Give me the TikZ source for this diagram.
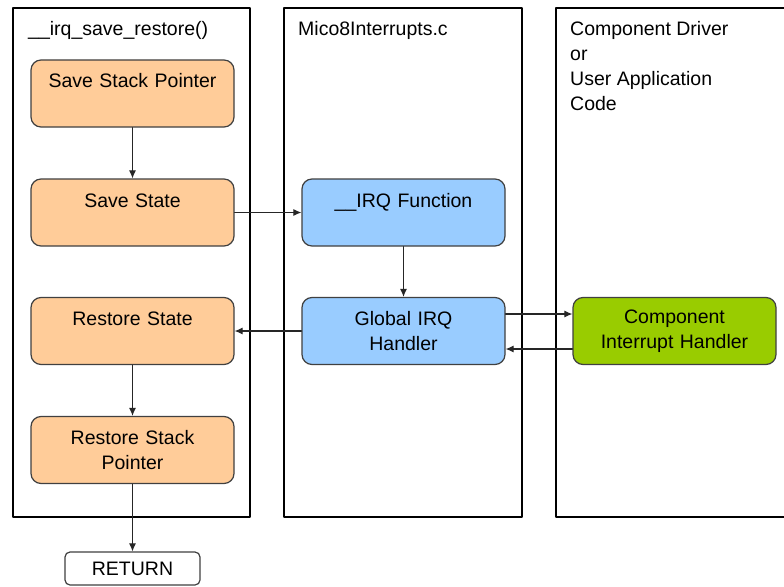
\documentclass[tikz,border=0pt]{standalone}
\usepackage{fontspec}
\setmainfont{Liberation Sans}
\usepackage{tikz}
\usetikzlibrary{arrows.meta,positioning}

\definecolor{peach}{HTML}{FFCC99}
\definecolor{skyblue}{HTML}{99CCFF}
\definecolor{limegreen}{HTML}{99CC00}
\definecolor{boxline}{HTML}{404040}

\tikzset{
  flowbox/.style={draw=boxline,line width=1.2pt,rounded corners=10pt,
    minimum width=203pt,minimum height=67pt,text width=190pt,align=center,
    font=\fontsize{19.5}{25}\selectfont},
  oneline/.style={text height=14pt,text depth=25pt},
  paneltitle/.style={anchor=north west,inner sep=0pt,align=left,
    font=\fontsize{19.5}{25}\selectfont},
  flow/.style={-{Latex[length=8pt,width=7pt]},line width=1.1pt,black!85}
}

\begin{document}
\begin{tikzpicture}[x=1pt,y=-1pt,line cap=round,line join=round]
\path[use as bounding box] (0,0) rectangle (784,586);
\fill[white] (0,0) rectangle (784,586);
\draw[line width=1.2pt] (13,8) rectangle (250,517);
\draw[line width=1.2pt] (284,8) rectangle (522,517);
\draw[line width=1.2pt] (786,8) -- (556,8) -- (556,517) -- (786,517);
\node[paneltitle] (titleirq) at (28,21) {\_\_irq\_save\_restore()};
\node[paneltitle] (titlemico) at (298,21) {Mico8Interrupts.c};
\node[paneltitle] (titlecomp) at (570,21) {Component Driver\\or\\User Application\\Code};
\node[flowbox,oneline,fill=peach] (savesp) at (132.5,93.5) {Save Stack Pointer};
\node[flowbox,oneline,fill=peach] (savestate) at (132.5,212.5) {Save State};
\node[flowbox,oneline,fill=peach] (reststate) at (132.5,331) {Restore State};
\node[flowbox,fill=peach] (restsp) at (132.5,450) {Restore Stack\\Pointer};
\node[flowbox,oneline,fill=skyblue] (irqfunc) at (403.5,212.5) {\_\_IRQ Function};
\node[flowbox,fill=skyblue] (globirq) at (403.5,331) {Global IRQ\\Handler};
\node[flowbox,fill=limegreen] (compirq) at (674.5,331) {Component\\Interrupt Handler};
\node[draw=boxline,line width=1.2pt,rounded corners=5pt,fill=white,
  minimum width=135pt,minimum height=33pt,
  font=\fontsize{19.5}{25}\selectfont] (ret) at (132.5,568.5) {RETURN};
\draw[flow] (savesp) -- (savestate);
\draw[flow] (savestate) -- (irqfunc);
\draw[flow] (irqfunc) -- (globirq);
\draw[flow] (globirq) -- (reststate);
\draw[flow] ([yshift=17pt]globirq.east) -- ([yshift=17pt]compirq.west);
\draw[flow] ([yshift=-18pt]compirq.west) -- ([yshift=-18pt]globirq.east);
\draw[flow] (reststate) -- (restsp);
\draw[flow] (restsp) -- (ret);
\end{tikzpicture}
\end{document}
